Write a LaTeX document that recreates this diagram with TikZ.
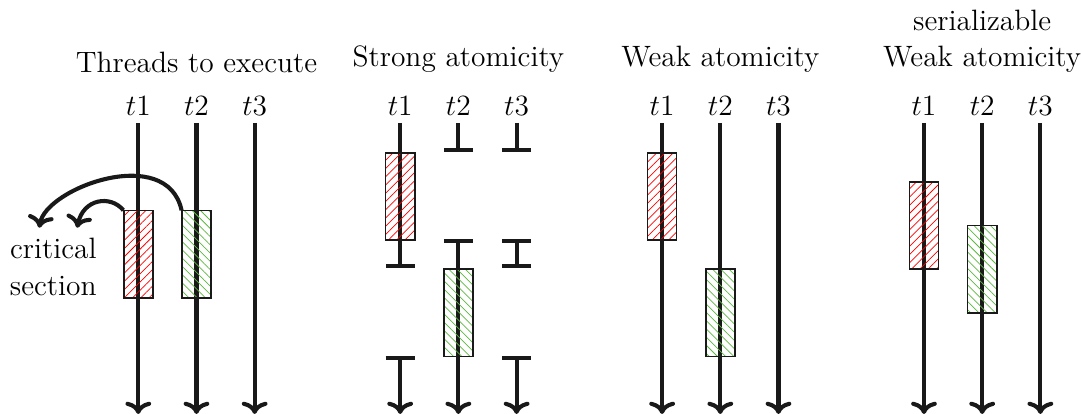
\documentclass[tikz,border=0pt]{standalone}
\usepackage{tikz}
\usetikzlibrary{positioning, arrows.meta, patterns.meta}
\definecolor{hatchgreen}{RGB}{92,184,64}

\begin{document}
\begin{tikzpicture}[node distance=1.6mm]
  \tikzset{
    thread/.style={line width=2pt, draw=black!90},
    tlabel/.style={font=\Large, above},
    title/.style={font=\Large, align=center},
    csbox/.style={
      draw=black!90, line width=0.8pt, minimum width=5mm, minimum height=15mm,
      inner sep=0pt, anchor=north
    },
    redsec/.style={csbox, pattern color=red,
      pattern={Lines[angle=45, distance=2.85pt, line width=0.35pt]}},
    greensec/.style={csbox, pattern color=hatchgreen,
      pattern={Lines[angle=-45, distance=2.85pt, line width=0.35pt]}},
    barend/.style={arrows={-Bar[width=5mm]}},
    barboth/.style={arrows={Bar[width=5mm]-Bar[width=5mm]}},
    barstart/.style={arrows={Bar[width=5mm]->}}
  }
  \useasboundingbox (-2.376,-5) rectangle (16.215,2.113);

  % threads to execute
  \foreach \k in {1,2,3}
    \node[tlabel] (a\k) at (\k-1,0) {$t\k$};
  \node[title, above=of a2] {Threads to execute};
  \foreach \k in {1,2,3}
    \draw[thread, ->] (a\k.south) -- ++(0,-5);
  \node[redsec] (ar) at (0,-1.5) {};
  \node[greensec] (ag) at (1,-1.5) {};
  \node[title] (crit) at (-1.46,-2.47) {critical\\section};
  \coordinate (crit1) at (-1.05,-1.8);
  \coordinate (crit2) at (-1.70,-1.8);
  \draw[thread, ->] (ar.north west) .. controls +(-0.22,0.27) and +(0.1,0.5) .. (crit1);
  \draw[thread, ->] (ag.north west) .. controls +(-0.25,1.15) and +(0.1,0.68) .. (crit2);

  % strong atomicity
  \foreach \k in {1,2,3}
    \node[tlabel] (s\k) at (3.5+\k,0) {$t\k$};
  \node[title, above=of s2] {Strong atomicity};
  \draw[thread, barend] (s1.south) -- ++(0,-2.5);
  \draw[thread, barstart] ([yshift=-4cm]s1.south) -- ++(0,-1);
  \draw[thread, barend] (s2.south) -- ++(0,-0.5);
  \draw[thread, barstart] ([yshift=-2cm]s2.south) -- ++(0,-3);
  \draw[thread, barend] (s3.south) -- ++(0,-0.5);
  \draw[thread, barboth] ([yshift=-2cm]s3.south) -- ++(0,-0.5);
  \draw[thread, barstart] ([yshift=-4cm]s3.south) -- ++(0,-1);
  \node[redsec] (sr) at (4.5,-0.5) {};
  \node[greensec] (sg) at (5.5,-2.5) {};

  % weak atomicity
  \foreach \k in {1,2,3}
    \node[tlabel] (w\k) at (8+\k,0) {$t\k$};
  \node[title, above=of w2] {Weak atomicity};
  \foreach \k in {1,2,3}
    \draw[thread, ->] (w\k.south) -- ++(0,-5);
  \node[redsec] (wr) at (9,-0.5) {};
  \node[greensec] (wg) at (10,-2.5) {};

  % serializable weak atomicity
  \foreach \k in {1,2,3}
    \node[tlabel] (z\k) at (12.5+\k,0) {$t\k$};
  \node[title, above=of z2] {serializable\\Weak atomicity};
  \foreach \k in {1,2,3}
    \draw[thread, ->] (z\k.south) -- ++(0,-5);
  \node[redsec] (zr) at (13.5,-1) {};
  \node[greensec] (zg) at (14.5,-1.75) {};
\end{tikzpicture}
\end{document}
